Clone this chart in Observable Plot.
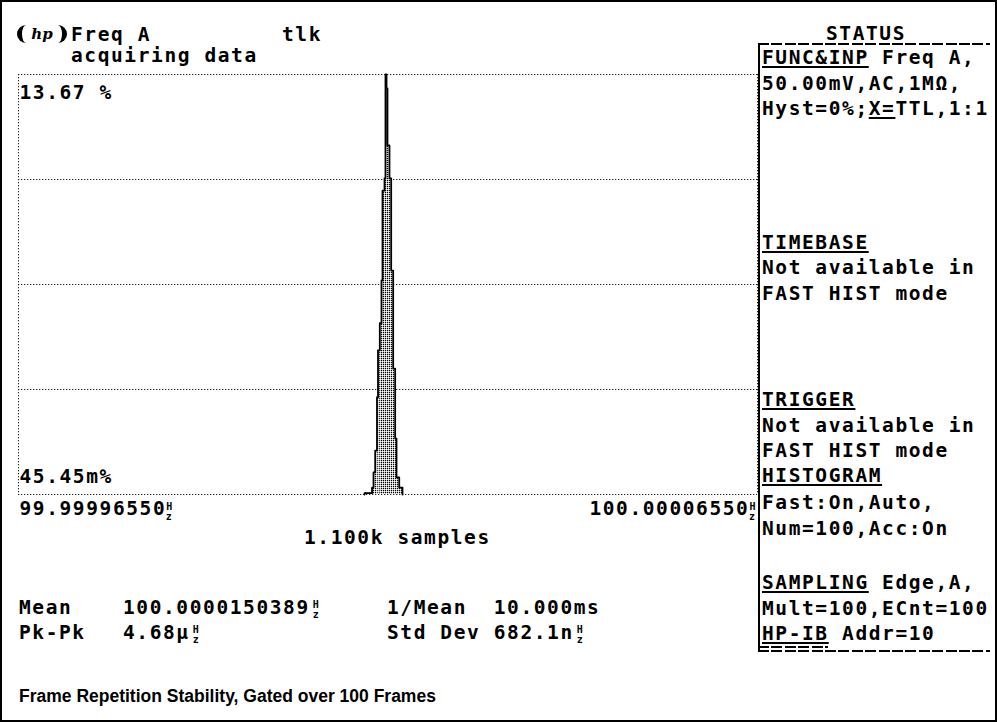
<!DOCTYPE html>
<html><head><meta charset="utf-8">
<script src="https://cdn.jsdelivr.net/npm/d3@7"></script>
<script src="https://cdn.jsdelivr.net/npm/@observablehq/plot@0.6"></script>
<style>
html,body{margin:0;padding:0;background:#fff;}
#page{position:relative;width:997px;height:722px;overflow:hidden;background:#fff;}
#frame{position:absolute;left:0;top:0;width:997px;height:722px;box-sizing:border-box;border:2px solid #000;pointer-events:none;}
.t{position:absolute;font-family:"DejaVu Sans Mono",monospace;font-weight:bold;font-size:19.5px;line-height:18px;letter-spacing:1.6px;white-space:pre;color:#000;}
.hz{display:inline-block;font-size:10px;line-height:10px;letter-spacing:0;vertical-align:-4px;text-align:center;width:12px;}
u{text-decoration:underline;text-underline-offset:2px;text-decoration-thickness:2px;}
#chart{position:absolute;left:-3px;top:58px;}
.vline{position:absolute;background:#000;}
.dash{position:absolute;height:2px;background:repeating-linear-gradient(90deg,#000 0 11px,transparent 11px 13.4px);}
#logo{position:absolute;left:17px;top:25px;width:40px;height:18px;border-left:5px solid #000;border-right:5px solid #000;border-radius:9px;font-family:"DejaVu Serif",serif;font-style:italic;font-weight:bold;font-size:15px;line-height:18px;text-align:center;}
#caption{position:absolute;left:19px;top:686px;font-family:"Liberation Sans",Arial,sans-serif;font-weight:bold;font-size:17.5px;color:#000;}
</style></head>
<body>
<div id="page">
  <div id="logo">hp</div>
  <div class="t" style="left:71px;top:26px;">Freq A</div>
  <div class="t" style="left:282px;top:26px;">tlk</div>
  <div class="t" style="left:71px;top:47px;">acquiring data</div>
  <div class="t" style="left:826px;top:25px;">STATUS</div>
  <div class="dash" style="left:758px;top:43px;width:232px;"></div>
  <div class="vline" style="left:758px;top:43px;width:2px;height:609px;"></div>
  <div id="status"></div>
  <div class="dash" style="left:758px;top:646px;width:70px;"></div>
  <div class="dash" style="left:758px;top:650px;width:232px;"></div>
  <div id="chart"></div>
  <div class="t" style="left:304px;top:529px;">1.100k samples</div>
  <div class="t" style="left:19px;top:599px;">Mean</div>
  <div class="t" style="left:123px;top:599px;">100.0000150389<span class="hz">H<br>z</span></div>
  <div class="t" style="left:387px;top:599px;">1/Mean  10.000ms</div>
  <div class="t" style="left:19px;top:624px;">Pk-Pk</div>
  <div class="t" style="left:123px;top:624px;">4.68µ<span class="hz">H<br>z</span></div>
  <div class="t" style="left:387px;top:624px;">Std Dev 682.1n<span class="hz">H<br>z</span></div>
  <div id="caption">Frame Repetition Stability, Gated over 100 Frames</div>
  <div id="frame"></div>
</div>
<script>
// ---- data ----
// histogram bin edges, in µHz above the left scale end (99.9999655 Hz)
const binEdges = [46.82, 47.84, 48.04, 48.27, 48.51, 48.65, 48.89, 49.12, 49.26, 49.53, 49.66, 49.80, 49.93, 50.20, 50.43, 50.70, 50.97, 51.15, 51.52, 51.96];
// percent of samples per bin
const binPercent = [0.09, 0.27, 0.76, 1.47, 3.2, 4.72, 5.6, 6.99, 9.9, 10.3, 13.67, 13.22, 11.37, 10.30, 7.31, 4.13, 1.86, 0.60, 0.27];
const xSpan = [0, 100];                  // µHz: 99.9999655 .. 100.0000655 Hz
const xLabels = ["99.99996550Hz", "100.00006550Hz"];
const yRange = [0.04545, 13.67];         // % (45.45m% .. 13.67 %)
const yLabels = ["13.67 %", "45.45m%"];
const gridDivisions = 4;

const statusLines = [
  ["<u>FUNC&amp;INP</u> Freq A,", 48],
  ["50.00mV,AC,1MΩ,", 74],
  ["Hyst=0%;<u>X=</u>TTL,1:1", 99],
  ["<u>TIMEBASE</u>", 233],
  ["Not available in", 258],
  ["FAST HIST mode", 284],
  ["<u>TRIGGER</u>", 390],
  ["Not available in", 416],
  ["FAST HIST mode", 441],
  ["<u>HISTOGRAM</u>", 466],
  ["Fast:On,Auto,", 493],
  ["Num=100,Acc:On", 519],
  ["<u>SAMPLING</u> Edge,A,", 573],
  ["Mult=100,ECnt=100", 599],
  ["<u>HP-IB</u> Addr=10", 624]
];
const st = document.getElementById("status");
for (const [html, top] of statusLines) {
  const d = document.createElement("div");
  d.className = "t"; d.style.left = "762px"; d.style.top = (top + 1) + "px";
  d.innerHTML = html; st.appendChild(d);
}

const bins = binPercent.map((p, i) => ({x1: binEdges[i], x2: binEdges[i + 1], pct: p}));
const outline = [{x: binEdges[0], y: yRange[0]}];
for (const b of bins) { outline.push({x: b.x1, y: b.pct}); outline.push({x: b.x2, y: b.pct}); }
outline.push({x: binEdges[binEdges.length - 1], y: yRange[0]});
const grid = d3.range(gridDivisions + 1).map(k => yRange[0] + k * (yRange[1] - yRange[0]) / gridDivisions);

const dot = {stroke: "#222", strokeWidth: 1, strokeDasharray: "1.3,1.7"};
const svg = Plot.plot({
  width: 772, height: 472,
  marginLeft: 21, marginRight: 12, marginTop: 16, marginBottom: 36,
  x: {domain: xSpan, axis: null},
  y: {domain: yRange, axis: null},
  style: {fontFamily: "DejaVu Sans Mono", fontSize: "19.5px", fontWeight: "bold", letterSpacing: "1.6px", background: "transparent", overflow: "visible", color: "#000"},
  marks: [
    Plot.ruleY(grid, dot),
    Plot.ruleX(xSpan, dot),
    Plot.rectY(bins, {x1: "x1", x2: "x2", y1: yRange[0], y2: "pct", fill: "#999"}),
    Plot.line(outline, {x: "x", y: "y", stroke: "#000", strokeWidth: 1.8}),
    Plot.text([yLabels[0]], {x: xSpan[0], y: yRange[1], text: d => d, textAnchor: "start", dx: 1, dy: 18, fill: "#000"}),
    Plot.text([yLabels[1]], {x: xSpan[0], y: yRange[0], text: d => d, textAnchor: "start", dx: 1, dy: -18, fill: "#000"}),
    Plot.text([xLabels[0]], {x: xSpan[0], y: yRange[0], text: d => d, textAnchor: "start", dx: 1, dy: 14, fill: "#000"}),
    Plot.text([xLabels[1]], {x: xSpan[1], y: yRange[0], text: d => d, textAnchor: "end", dx: -2, dy: 14, fill: "#000"})
  ]
});
// stipple pattern for the histogram fill
const s = d3.select(svg);
const pat = s.insert("defs", ":first-child").append("pattern")
  .attr("id", "stip").attr("width", 2).attr("height", 2).attr("patternUnits", "userSpaceOnUse");
pat.append("rect").attr("width", 2).attr("height", 2).attr("fill", "#fff");
pat.append("rect").attr("width", 1).attr("height", 1).attr("fill", "#000");
pat.append("rect").attr("x", 1).attr("width", 1).attr("height", 1).attr("fill", "#bbb");
pat.append("rect").attr("y", 1).attr("width", 1).attr("height", 1).attr("fill", "#bbb");
s.selectAll("g[aria-label=rect]").attr("fill", "url(#stip)");
// stacked "Hz" unit glyph
s.selectAll("g[aria-label=text] text").each(function() {
  const el = d3.select(this);
  const txt = el.text();
  if (txt.endsWith("Hz")) {
    el.text(txt.slice(0, -2));
    el.append("tspan").attr("font-size", 10).attr("dy", "-0.45em").attr("letter-spacing", 0).text("H");
    el.append("tspan").attr("font-size", 10).attr("dx", -6.5).attr("dy", "1em").attr("letter-spacing", 0).text("z");
  }
});
document.getElementById("chart").appendChild(svg);
</script>
</body></html>
